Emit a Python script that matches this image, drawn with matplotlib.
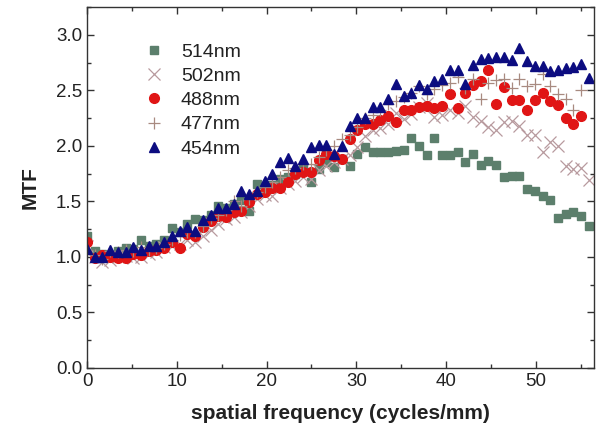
import numpy as np
import matplotlib.pyplot as plt
from matplotlib.ticker import MultipleLocator

plt.rcParams['font.family'] = ['Liberation Sans', 'DejaVu Sans']

# spatial frequency (cycles/mm), shared by all series
freq = [0.00, 0.86, 1.72, 2.58, 3.44, 4.30, 5.16, 6.02, 6.88, 7.74,
        8.60, 9.46, 10.32, 11.18, 12.04, 12.90, 13.76, 14.62, 15.48, 16.34,
        17.20, 18.06, 18.92, 19.78, 20.64, 21.50, 22.36, 23.22, 24.08, 24.94,
        25.80, 26.66, 27.52, 28.38, 29.24, 30.10, 30.96, 31.82, 32.68, 33.54,
        34.40, 35.26, 36.12, 36.98, 37.84, 38.70, 39.56, 40.42, 41.28, 42.14,
        43.00, 43.86, 44.72, 45.58, 46.44, 47.30, 48.16, 49.02, 49.88, 50.74,
        51.60, 52.46, 53.32, 54.18, 55.04, 55.90]

mtf_514 = [1.19, 1.05, 1.03, 1.02, 1.05, 1.08, 1.07, 1.15, 1.10, 1.12,
           1.15, 1.26, 1.22, 1.30, 1.34, 1.33, 1.38, 1.46, 1.44, 1.48,
           1.51, 1.41, 1.66, 1.62, 1.65, 1.70, 1.72, 1.75, 1.81, 1.67,
           1.79, 1.85, 1.81, 1.88, 1.82, 1.93, 1.99, 1.94, 1.94, 1.94,
           1.95, 1.96, 2.07, 2.00, 1.92, 2.07, 1.92, 1.92, 1.94, 1.85,
           1.93, 1.83, 1.86, 1.83, 1.72, 1.73, 1.73, 1.61, 1.59, 1.55,
           1.51, 1.35, 1.39, 1.40, 1.37, 1.28]

mtf_502 = [1.10, 1.00, 0.95, 0.97, 1.00, 1.01, 0.99, 1.00, 1.03, 1.04,
           1.09, 1.10, 1.12, 1.15, 1.13, 1.19, 1.24, 1.30, 1.34, 1.36,
           1.40, 1.46, 1.52, 1.56, 1.55, 1.62, 1.66, 1.68, 1.72, 1.70,
           1.78, 1.82, 1.85, 1.88, 1.92, 1.99, 2.09, 2.14, 2.16, 2.20,
           2.30, 2.24, 2.29, 2.35, 2.39, 2.26, 2.28, 2.32, 2.30, 2.36,
           2.26, 2.22, 2.17, 2.14, 2.21, 2.22, 2.18, 2.10, 2.10, 1.94,
           2.03, 2.00, 1.82, 1.79, 1.80, 1.69]

mtf_488 = [1.13, 0.99, 1.02, 1.00, 0.99, 0.99, 1.03, 1.02, 1.05, 1.06,
           1.08, 1.13, 1.08, 1.21, 1.19, 1.27, 1.32, 1.37, 1.36, 1.40,
           1.41, 1.49, 1.57, 1.58, 1.62, 1.62, 1.67, 1.75, 1.76, 1.76,
           1.87, 1.93, 1.91, 1.88, 2.06, 2.14, 2.20, 2.20, 2.23, 2.27,
           2.21, 2.32, 2.32, 2.35, 2.36, 2.34, 2.36, 2.47, 2.34, 2.48,
           2.55, 2.58, 2.68, 2.38, 2.53, 2.41, 2.41, 2.32, 2.41, 2.48,
           2.40, 2.37, 2.25, 2.20, 2.27, np.nan]

mtf_477 = [1.06, 1.02, 0.98, 1.05, 1.04, 1.06, 1.05, 1.09, 1.06, 1.08,
           1.12, 1.15, 1.20, 1.22, 1.22, 1.28, 1.35, 1.38, 1.42, 1.50,
           1.46, 1.52, 1.58, 1.63, 1.67, 1.72, 1.78, 1.80, 1.84, 1.84,
           1.90, 1.96, 2.00, 2.06, 2.10, 2.17, 2.25, 2.28, 2.32, 2.38,
           2.40, 2.44, 2.48, 2.54, 2.47, 2.51, 2.55, 2.57, 2.62, 2.52,
           2.60, 2.42, 2.57, 2.59, 2.60, 2.52, 2.60, 2.54, 2.56, 2.65,
           2.54, 2.47, 2.42, 2.32, 2.50, np.nan]

mtf_454 = [1.07, 1.00, 1.00, 1.06, 1.04, 1.04, 1.09, 1.06, 1.10, 1.10,
           1.13, 1.19, 1.23, 1.27, 1.23, 1.33, 1.38, 1.44, 1.44, 1.48,
           1.59, 1.57, 1.59, 1.68, 1.75, 1.85, 1.89, 1.82, 1.88, 1.99,
           2.01, 2.01, 1.93, 2.00, 2.18, 2.25, 2.25, 2.35, 2.35, 2.42,
           2.56, 2.45, 2.48, 2.55, 2.51, 2.58, 2.60, 2.68, 2.68, 2.56,
           2.73, 2.78, 2.79, 2.80, 2.80, 2.77, 2.88, 2.76, 2.72, 2.72,
           2.67, 2.68, 2.70, 2.71, 2.74, 2.61]

fig = plt.figure(figsize=(5.96, 4.37), dpi=100)
ax = fig.add_axes([0.146, 0.158, 0.851, 0.826])

ax.plot(freq, mtf_514, 's', ms=5.5, color='#5c7f6c', ls='none', label='514nm')
ax.plot(freq, mtf_502, 'x', ms=8.5, mew=0.9, color='#b89a9e', ls='none', label='502nm')
ax.plot(freq, mtf_488, 'o', ms=7, color='#e01515', ls='none', label='488nm')
ax.plot(freq, mtf_477, '+', ms=9, mew=0.9, color='#a88a80', ls='none', label='477nm')
ax.plot(freq, mtf_454, '^', ms=7.5, color='#0c0c80', ls='none', label='454nm')

ax.set_xlim(0, 56.5)
ax.set_ylim(0, 3.25)
ax.xaxis.set_major_locator(MultipleLocator(10))
ax.xaxis.set_minor_locator(MultipleLocator(5))
ax.yaxis.set_major_locator(MultipleLocator(0.5))
ax.yaxis.set_minor_locator(MultipleLocator(0.25))
ax.yaxis.set_major_formatter(plt.FormatStrFormatter('%.1f'))
ax.tick_params(which='both', direction='in', top=True, right=True,
               labelsize=13.5, width=1, color='#333333', labelcolor='#222222')
ax.tick_params(which='major', length=5)
ax.tick_params(which='minor', length=3)
for s in ax.spines.values():
    s.set_linewidth(1)
    s.set_color('#333333')

ax.set_xlabel('spatial frequency (cycles/mm)', fontsize=15, fontweight='bold',
              color='#222222', labelpad=10)
ax.set_ylabel('MTF', fontsize=15, fontweight='bold', color='#222222', labelpad=12)

ax.legend(loc='upper left', bbox_to_anchor=(0.112, 0.9), frameon=False,
          fontsize=14, borderpad=0, borderaxespad=0, handlelength=1,
          handletextpad=0.9, labelspacing=0.34, labelcolor='#222222')

plt.savefig('out.png', dpi=100)
